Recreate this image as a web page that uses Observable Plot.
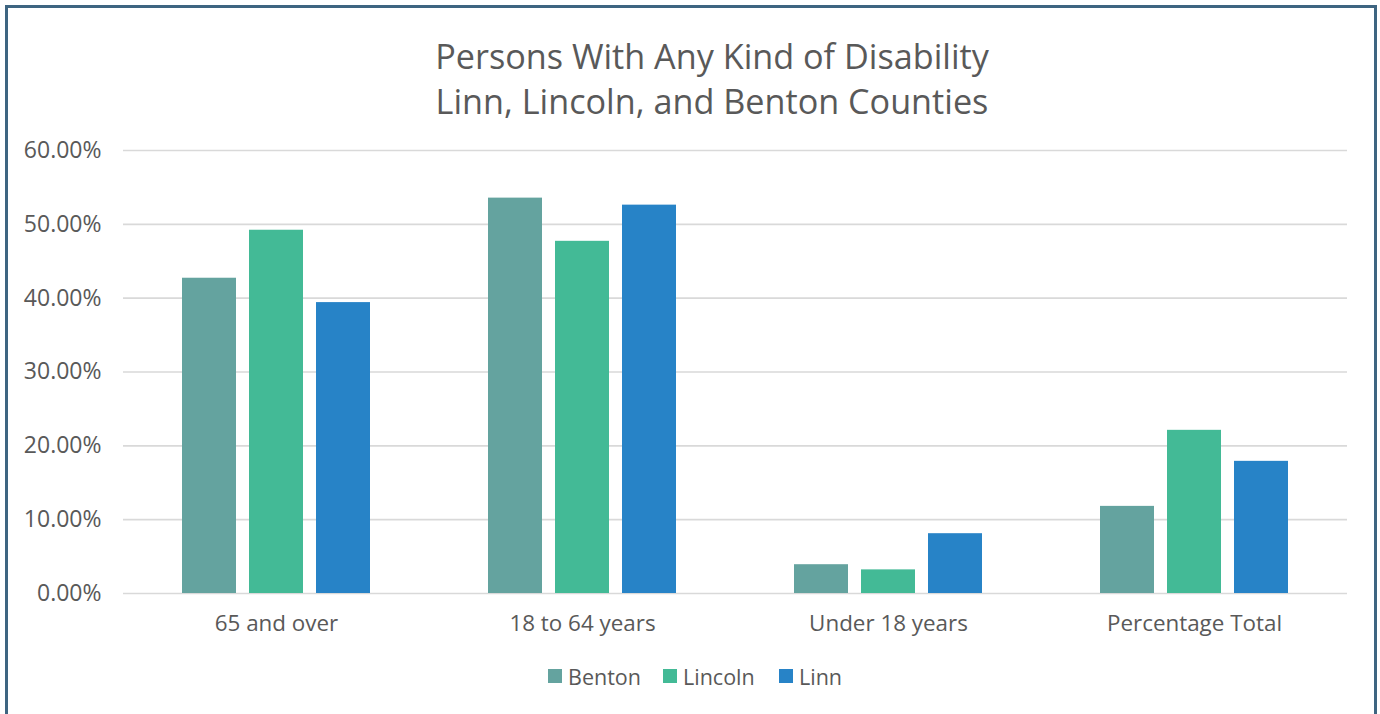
<!DOCTYPE html>
<html>
<head>
<meta charset="utf-8">
<script src="https://cdn.jsdelivr.net/npm/d3@7"></script>
<script src="https://cdn.jsdelivr.net/npm/@observablehq/plot@0.6"></script>
<style>
  html, body { margin: 0; padding: 0; background: #fff; }
  body { width: 1380px; height: 714px; overflow: hidden; position: relative; font-family: "Open Sans", sans-serif; color: #595959; }
  #frame { position: absolute; left: 5px; top: 5px; width: 1366px; height: 760px; border: 3px solid #3e6581; box-sizing: content-box; }
  #title { position: absolute; left: 0; top: 33px; width: 1424px; text-align: center; font-size: 34.2px; line-height: 45px; color: #595959; }
  #chart { position: absolute; left: 0; top: 130px; }
  #legend { position: absolute; top: 663px; left: 0; width: 1380px; height: 26px; }
  .li { position: absolute; top: 0; display: flex; align-items: center; font-size: 21.5px; color: #595959; height: 26px; }
  .sw { width: 14px; height: 14px; margin-right: 6px; }
  .yax text { font-size: 23px; }
</style>
</head>
<body>
<div id="frame"></div>
<div id="title">Persons With Any Kind of Disability<br>Linn, Lincoln, and Benton Counties</div>
<div id="chart"></div>
<div id="legend"></div>
<script>
const categories = ["65 and over", "18 to 64 years", "Under 18 years", "Percentage Total"];
const counties = ["Benton", "Lincoln", "Linn"];
const benton = [0.427, 0.5355, 0.039, 0.118];
const lincoln = [0.492, 0.477, 0.032, 0.221];
const linn = [0.394, 0.526, 0.081, 0.179];
const colors = ["#64a39f", "#43ba96", "#2783c7"];
const yTicks = [0, 0.1, 0.2, 0.3, 0.4, 0.5, 0.6];

const series = {Benton: benton, Lincoln: lincoln, Linn: linn};
const data = [];
categories.forEach((c, i) => counties.forEach(k => data.push({category: c, county: k, value: series[k][i]})));

const chart = Plot.plot({
  width: 1380,
  height: 510,
  marginLeft: 123,
  marginRight: 33,
  marginTop: 20,
  marginBottom: 47,
  style: {fontFamily: "Open Sans, sans-serif", fontSize: "22.4px", color: "#595959", background: "transparent"},
  fx: {domain: categories, padding: 0, axis: "bottom", label: null, tickSize: 0, tickPadding: 22},
  x: {domain: counties, paddingInner: 0.194, paddingOuter: 0.88, axis: null},
  y: {domain: [0, 0.6], axis: null},
  color: {domain: counties, range: colors},
  marks: [
    Plot.ruleY(yTicks, {stroke: "#d9d9d9", strokeWidth: 1.6}),
    Plot.axisY(yTicks, {tickFormat: d3.format(".2%"), label: null, tickSize: 0, tickPadding: 22, fontSize: 21, className: "yax"}),
    Plot.barY(data, {fx: "category", x: "county", y: "value", fill: "county"})
  ]
});
document.getElementById("chart").appendChild(chart);

const legend = document.getElementById("legend");
const lx = [548, 663, 779];
counties.forEach((k, i) => {
  const d = document.createElement("div");
  d.className = "li";
  d.style.left = lx[i] + "px";
  d.innerHTML = `<span class="sw" style="background:${colors[i]}"></span><span>${k}</span>`;
  legend.appendChild(d);
});
</script>
</body>
</html>
